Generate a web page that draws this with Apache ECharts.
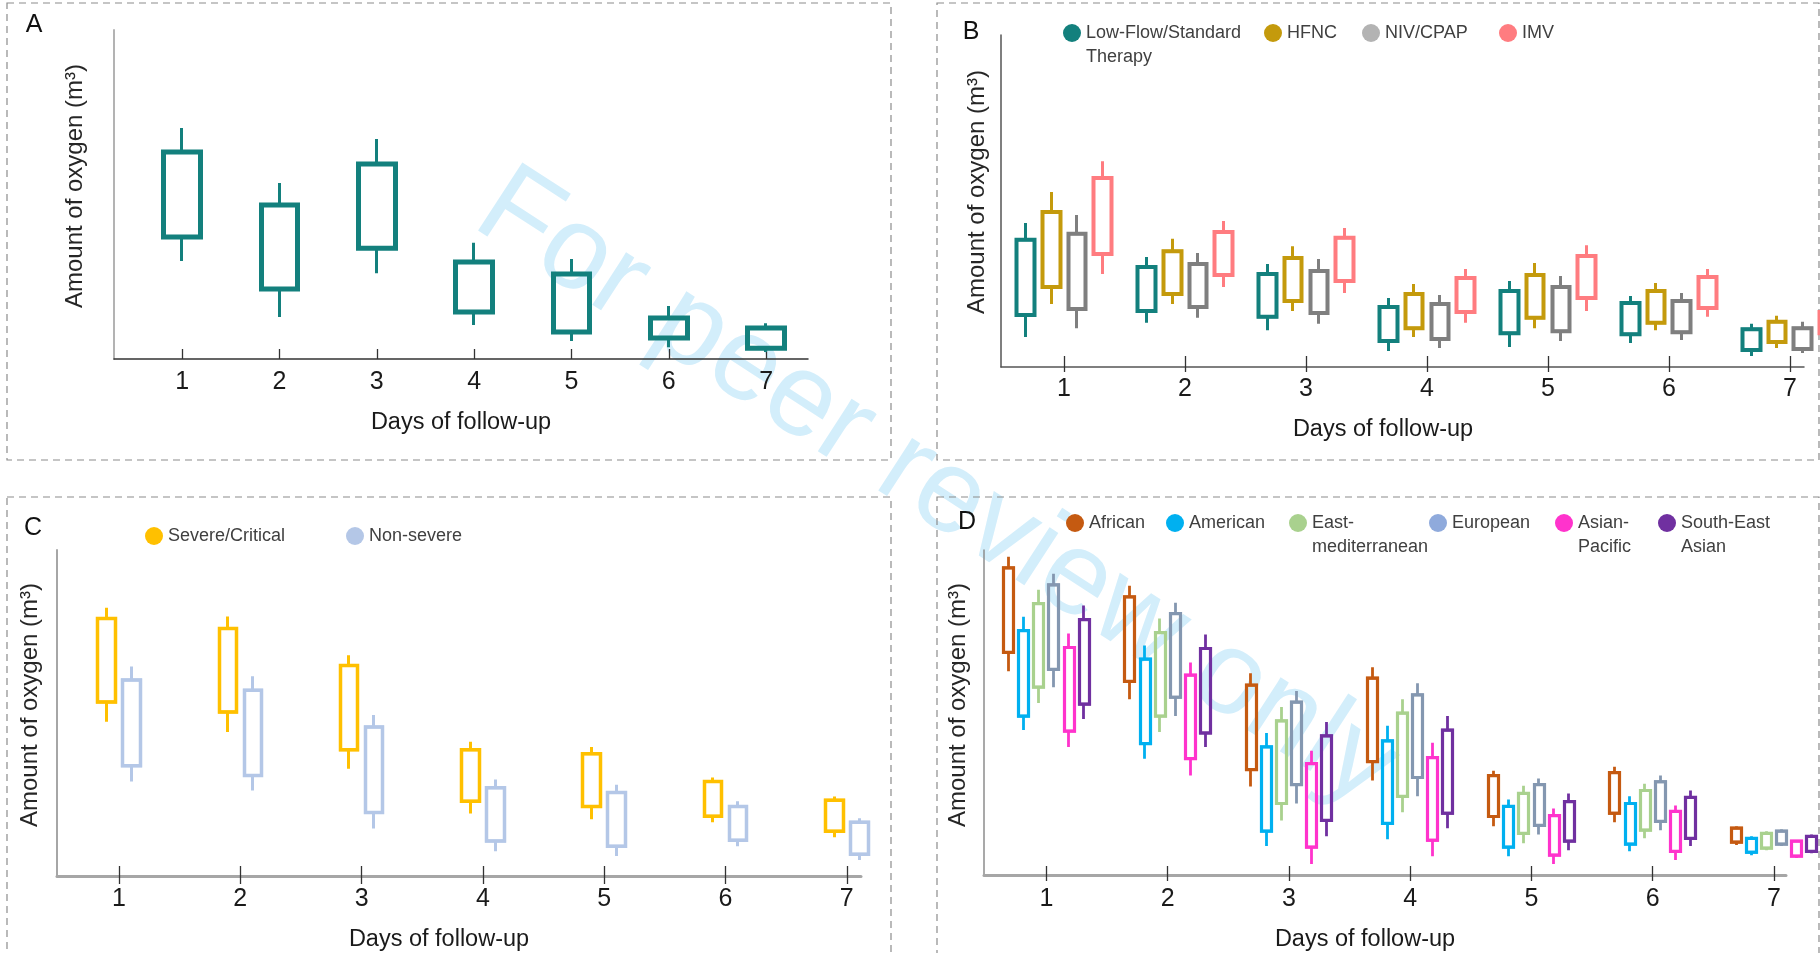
<!DOCTYPE html>
<html>
<head>
<meta charset="utf-8">
<script src="https://cdn.jsdelivr.net/npm/echarts@6/dist/echarts.min.js"></script>
<style>
html,body{margin:0;padding:0;background:#ffffff;}
#chart{width:1820px;height:953px;}
</style>
</head>
<body>
<div id="chart"></div>
<script>
// ---------------- DATA (relative units, 0-100 of each panel's axis height) ----------------
// each entry: [whisker low, box low, box high, whisker high]
const days = [1, 2, 3, 4, 5, 6, 7];
const dayLabels = ['1', '2', '3', '4', '5', '6', '7'];

// Panel A – all patients
const aAll = [[29.8,37.1,62.9,70.2],[12.8,21.3,46.8,53.5],[26.1,33.7,59.3,66.9],[10.3,14.3,29.5,35.3],[5.5,8.2,25.8,30.4],[3.6,6.4,12.5,16.1],[2.1,3.3,9.4,10.9]];

// Panel B – by oxygen support
const bNames = ['Low-Flow/Standard Therapy', 'HFNC', 'NIV/CPAP', 'IMV'];
const bLabels = ['Low-Flow/Standard\nTherapy', 'HFNC', 'NIV/CPAP', 'IMV'];
const bLowFlow = [[9.0,15.7,38.3,43.4],[13.3,16.9,30.1,33.1],[11.1,15.1,28.0,31.0],[4.8,7.8,18.1,20.8],[6.0,10.2,22.9,25.9],[7.2,9.9,19.3,21.4],[3.3,5.1,11.4,13.0]];
const bHFNC    = [[19.0,24.1,46.7,52.7],[19.0,22.0,34.9,38.6],[16.9,19.9,32.8,36.4],[9.0,11.7,22.0,25.0],[11.7,14.8,27.7,31.3],[11.1,13.3,22.9,25.3],[5.7,7.5,13.6,15.4]];
const bNIV     = [[11.7,17.5,40.1,45.8],[14.8,18.1,31.0,34.3],[13.0,16.3,28.9,32.5],[5.7,8.4,19.0,21.7],[7.8,10.8,24.1,27.4],[8.1,10.5,19.9,22.3],[4.2,5.4,11.7,13.6]];
const bIMV     = [[28.0,34.0,56.9,62.0],[24.1,27.7,40.7,44.0],[22.3,25.9,38.9,41.9],[13.3,16.6,26.8,29.5],[16.9,20.8,33.4,36.7],[15.1,17.8,27.1,29.5],[8.7,10.2,16.6,18.1]];

// Panel C – by severity
const cNames = ['Severe/Critical', 'Non-severe'];
const cSevere    = [[47.3,53.4,79.0,82.3],[44.2,50.3,75.9,79.6],[32.9,38.7,64.6,67.7],[19.2,22.9,38.7,41.2],[17.4,21.3,37.5,39.6],[16.5,18.3,29.0,30.2],[11.9,13.7,23.2,24.4]];
const cNonSevere = [[29.0,33.8,60.1,64.3],[26.2,30.8,57.0,61.3],[14.6,19.5,45.7,49.4],[7.6,10.7,27.1,29.6],[6.1,9.1,25.6,28.0],[9.1,11.0,21.3,22.9],[4.9,6.7,16.5,17.7]];

// Panel D – by WHO region
const dNames = ['African', 'American', 'East-mediterranean', 'European', 'Asian-Pacific', 'South-East Asian'];
const dLabels = ['African', 'American', 'East-\nmediterranean', 'European', 'Asian-\nPacific', 'South-East\nAsian'];
const dAfrican        = [[62.7,68.5,94.5,97.9],[54.1,59.6,85.6,89.0],[27.2,32.4,58.4,62.1],[29.1,34.9,60.6,63.9],[15.0,18.0,30.6,32.1],[16.2,19.0,31.5,33.3],[9.2,10.1,14.4,15.0]];
const dAmerican       = [[44.6,48.9,75.2,79.5],[35.8,40.4,66.4,70.6],[8.9,13.5,39.4,43.7],[11.0,15.9,41.3,45.9],[5.8,8.6,21.1,23.2],[7.3,9.5,22.0,24.2],[6.1,7.0,11.3,11.9]];
const dEastMed        = [[52.9,57.8,83.5,87.8],[44.0,48.9,74.6,78.9],[16.8,22.0,47.4,51.7],[19.3,24.2,49.8,54.1],[9.8,12.8,25.1,27.5],[11.3,13.8,26.0,28.1],[7.6,8.3,12.8,13.5]];
const dEuropean       = [[57.8,63.3,89.3,92.7],[48.9,54.7,80.4,83.8],[22.0,27.8,53.2,56.6],[24.2,30.0,55.4,59.0],[12.5,15.3,27.8,29.7],[13.8,16.5,28.7,30.6],[8.9,9.5,13.5,14.1]];
const dAsianPacific   = [[39.4,44.3,70.0,74.3],[30.6,35.8,61.5,65.4],[3.4,8.6,34.3,38.2],[5.8,10.7,36.1,40.7],[3.4,6.1,18.3,20.5],[4.6,7.3,19.6,21.4],[5.2,5.8,10.4,10.7]];
const dSouthEastAsian = [[48.0,52.6,78.6,82.9],[39.4,43.7,69.7,74.0],[11.9,16.8,42.8,47.1],[14.4,19.0,44.6,48.9],[7.6,10.4,22.6,25.1],[8.9,11.3,23.9,26.0],[6.7,7.3,11.9,12.5]];

// ---------------- STYLE ----------------
const SANS = "'Liberation Sans',Arial,sans-serif";
const TEXT = '#1a1a1a';

const aColor = '#13807d';
const bColors = ['#13807d', '#c49a0c', '#7f7f7f', '#ff7c80'];
const bLegendColors = ['#13807d', '#c49a0c', '#b3b3b3', '#ff7c80'];
const cColors = ['#ffc000', '#b4c7e7'];
const dColors = ['#c55a11', '#00b0f0', '#a9d18e', '#8497b0', '#ff33cc', '#7030a0'];
const dLegendColors = ['#c55a11', '#00b0f0', '#a9d18e', '#8faadc', '#ff33cc', '#7030a0'];

const chart = echarts.init(document.getElementById('chart'), null, {renderer: 'canvas'});

// ---------------- SERIES ----------------
const series = [];
function addCandles(name, vals, color, axisIdx, offset, barW, boxLw, wickLw) {
  const wick = vals.map((v, i) => [days[i] + offset, v[1], v[2], v[0], v[3]]);
  const box = vals.map((v, i) => [days[i] + offset, v[1], v[2], v[1], v[2]]);
  const base = {type: 'candlestick', name: name, xAxisIndex: axisIdx, yAxisIndex: axisIdx,
    barWidth: barW, silent: true, animation: false, clip: false, z: 3};
  const st = w => ({color: 'transparent', color0: 'transparent', borderColor: color, borderColor0: color, borderColorDoji: color, borderWidth: w});
  series.push(Object.assign({}, base, {data: wick, itemStyle: st(wickLw)}));
  series.push(Object.assign({}, base, {data: box, itemStyle: st(boxLw)}));
}
addCandles('All patients', aAll, aColor, 0, 0, 37, 5, 3);
[bLowFlow, bHFNC, bNIV, bIMV].forEach((v, i) => addCandles(bNames[i], v, bColors[i], 1, (i - 1.5) * 0.211, 18, 4, 3));
[cSevere, cNonSevere].forEach((v, i) => addCandles(cNames[i], v, cColors[i], 2, (i - 0.5) * 0.206, 18, 3.5, 3));
[dAfrican, dAmerican, dEastMed, dEuropean, dAsianPacific, dSouthEastAsian].forEach((v, i) =>
  addCandles(dNames[i], v, dColors[i], 3, (i - 2.5) * 0.1245, 10.5, 3.2, 2.8));

// ---------------- AXES ----------------
function xAxisMain(grid, min, max, lineColor, lineWidth, tickLen, nameGap, namePadRight, labelMargin) {
  return {
    type: 'value', gridIndex: grid, min: min, max: max, position: 'bottom',
    axisLine: {show: true, onZero: false, lineStyle: {color: lineColor, width: lineWidth}},
    axisTick: {show: true, inside: true, length: tickLen, customValues: days, lineStyle: {color: '#333', width: 1.3}},
    axisLabel: {show: true, customValues: days, margin: labelMargin, formatter: v => dayLabels[Math.round(v) - 1],
      fontFamily: SANS, fontSize: 25, lineHeight: 25, color: TEXT},
    splitLine: {show: false},
    name: 'Days of follow-up', nameLocation: 'middle', nameGap: nameGap,
    nameTextStyle: {fontFamily: SANS, fontSize: 23.5, lineHeight: 24, color: TEXT, padding: [0, namePadRight, 0, 0]}
  };
}
function xAxisOuterTicks(grid, min, max, len) {
  return {
    type: 'value', gridIndex: grid, min: min, max: max, position: 'bottom', offset: 0,
    axisLine: {show: false}, axisLabel: {show: false}, splitLine: {show: false},
    axisTick: {show: true, inside: false, length: len, customValues: days, lineStyle: {color: '#333', width: 1.3}}
  };
}
function yAxisMain(grid, lineColor, lineWidth, nameGap, shiftUp) {
  return {
    type: 'value', gridIndex: grid, min: 0, max: 100,
    axisLine: {show: true, onZero: false, lineStyle: {color: lineColor, width: lineWidth}},
    axisTick: {show: false}, axisLabel: {show: false}, splitLine: {show: false},
    name: 'Amount of oxygen (m³)', nameLocation: 'middle', nameGap: nameGap,
    nameTextStyle: {fontFamily: SANS, fontSize: 24, lineHeight: 24, color: '#262626', padding: [0, 0, 0, shiftUp * 2]}
  };
}

const xAxes = [
  xAxisMain(0, 0.30, 7.43, '#333333', 1.5, 10, 52, 0, 11),
  xAxisMain(1, 0.479, 7.116, '#555555', 1.5, 11, 51, 39, 10),
  xAxisMain(2, 0.489, 7.117, '#a6a6a6', 3, 10, 52, 40, 11),
  xAxisMain(3, 0.485, 7.099, '#a6a6a6', 3, 9, 53, 40, 12),
  xAxisOuterTicks(1, 0.479, 7.116, 5),
  xAxisOuterTicks(2, 0.489, 7.117, 8),
  xAxisOuterTicks(3, 0.485, 7.099, 6)
];
const yAxes = [
  yAxisMain(0, '#b3b3b3', 2, 26.5, 8.5),
  yAxisMain(1, '#555555', 1.5, 12, 9),
  yAxisMain(2, '#a6a6a6', 2, 15, 8),
  yAxisMain(3, '#8c8c8c', 1.5, 13.5, 7.5)
];

// ---------------- LEGENDS (one per item for exact placement) ----------------
const legends = [];
function addLegend(name, label, color, left, centerY) {
  const twoLine = label.indexOf('\n') >= 0;
  // a blank leading line keeps the first text line level with the icon
  const shown = twoLine ? '\u00a0\n' + label : label;
  legends.push({
    left: left, top: centerY - (twoLine ? 35 : 11), padding: 0, itemGap: 0, icon: 'circle', itemWidth: 18, itemHeight: 18,
    selectedMode: false,
    data: [{name: name, itemStyle: {color: color, borderWidth: 0}}],
    itemStyle: {borderWidth: 0},
    formatter: () => shown,
    textStyle: {fontFamily: SANS, fontSize: 18, lineHeight: 24, color: '#404040'}
  });
}
const bLegendLeft = [1063, 1264, 1362, 1499];
bNames.forEach((n, i) => addLegend(n, bLabels[i], bLegendColors[i], bLegendLeft[i], 32));
const cLegendLeft = [145, 346];
cNames.forEach((n, i) => addLegend(n, n, cColors[i], cLegendLeft[i], 535));
const dLegendLeft = [1066, 1166, 1289, 1429, 1555, 1658];
dNames.forEach((n, i) => addLegend(n, dLabels[i], dLegendColors[i], dLegendLeft[i], 522));

// ---------------- DECORATION ----------------
const dash = {fill: 'none', stroke: '#8c8c8c', lineWidth: 1.2, lineDash: [7, 5]};
const panelLetter = (t, x, y) => ({type: 'text', x: x, y: y, silent: true, z: 10,
  style: {text: t, fontFamily: SANS, fontSize: 25, fill: '#111', align: 'center', verticalAlign: 'middle'}});
const graphic = [
  {type: 'text', x: 936, y: 489, rotation: -33 * Math.PI / 180, silent: true, z: -10,
    style: {text: 'For peer review only', fontFamily: SANS, fontSize: 118, fill: '#d3eefb', align: 'center', verticalAlign: 'middle'}},
  {type: 'rect', silent: true, shape: {x: 7, y: 3, width: 884, height: 457}, style: dash},
  {type: 'rect', silent: true, shape: {x: 937, y: 3, width: 882, height: 457}, style: dash},
  {type: 'rect', silent: true, shape: {x: 7, y: 497, width: 884, height: 470}, style: dash},
  {type: 'rect', silent: true, shape: {x: 937, y: 497, width: 882, height: 470}, style: dash},
  panelLetter('A', 34, 25), panelLetter('B', 971, 32), panelLetter('C', 33, 528), panelLetter('D', 967, 522)
];

chart.setOption({
  backgroundColor: '#ffffff',
  animation: false,
  grid: [
    {left: 114, top: 30, width: 694, height: 329},
    {left: 1001, top: 35, width: 803, height: 332},
    {left: 57, top: 550, width: 804, height: 328},
    {left: 984, top: 550, width: 802, height: 327}
  ],
  xAxis: xAxes,
  yAxis: yAxes,
  legend: legends,
  graphic: {elements: graphic},
  series: series
});
</script>
</body>
</html>
